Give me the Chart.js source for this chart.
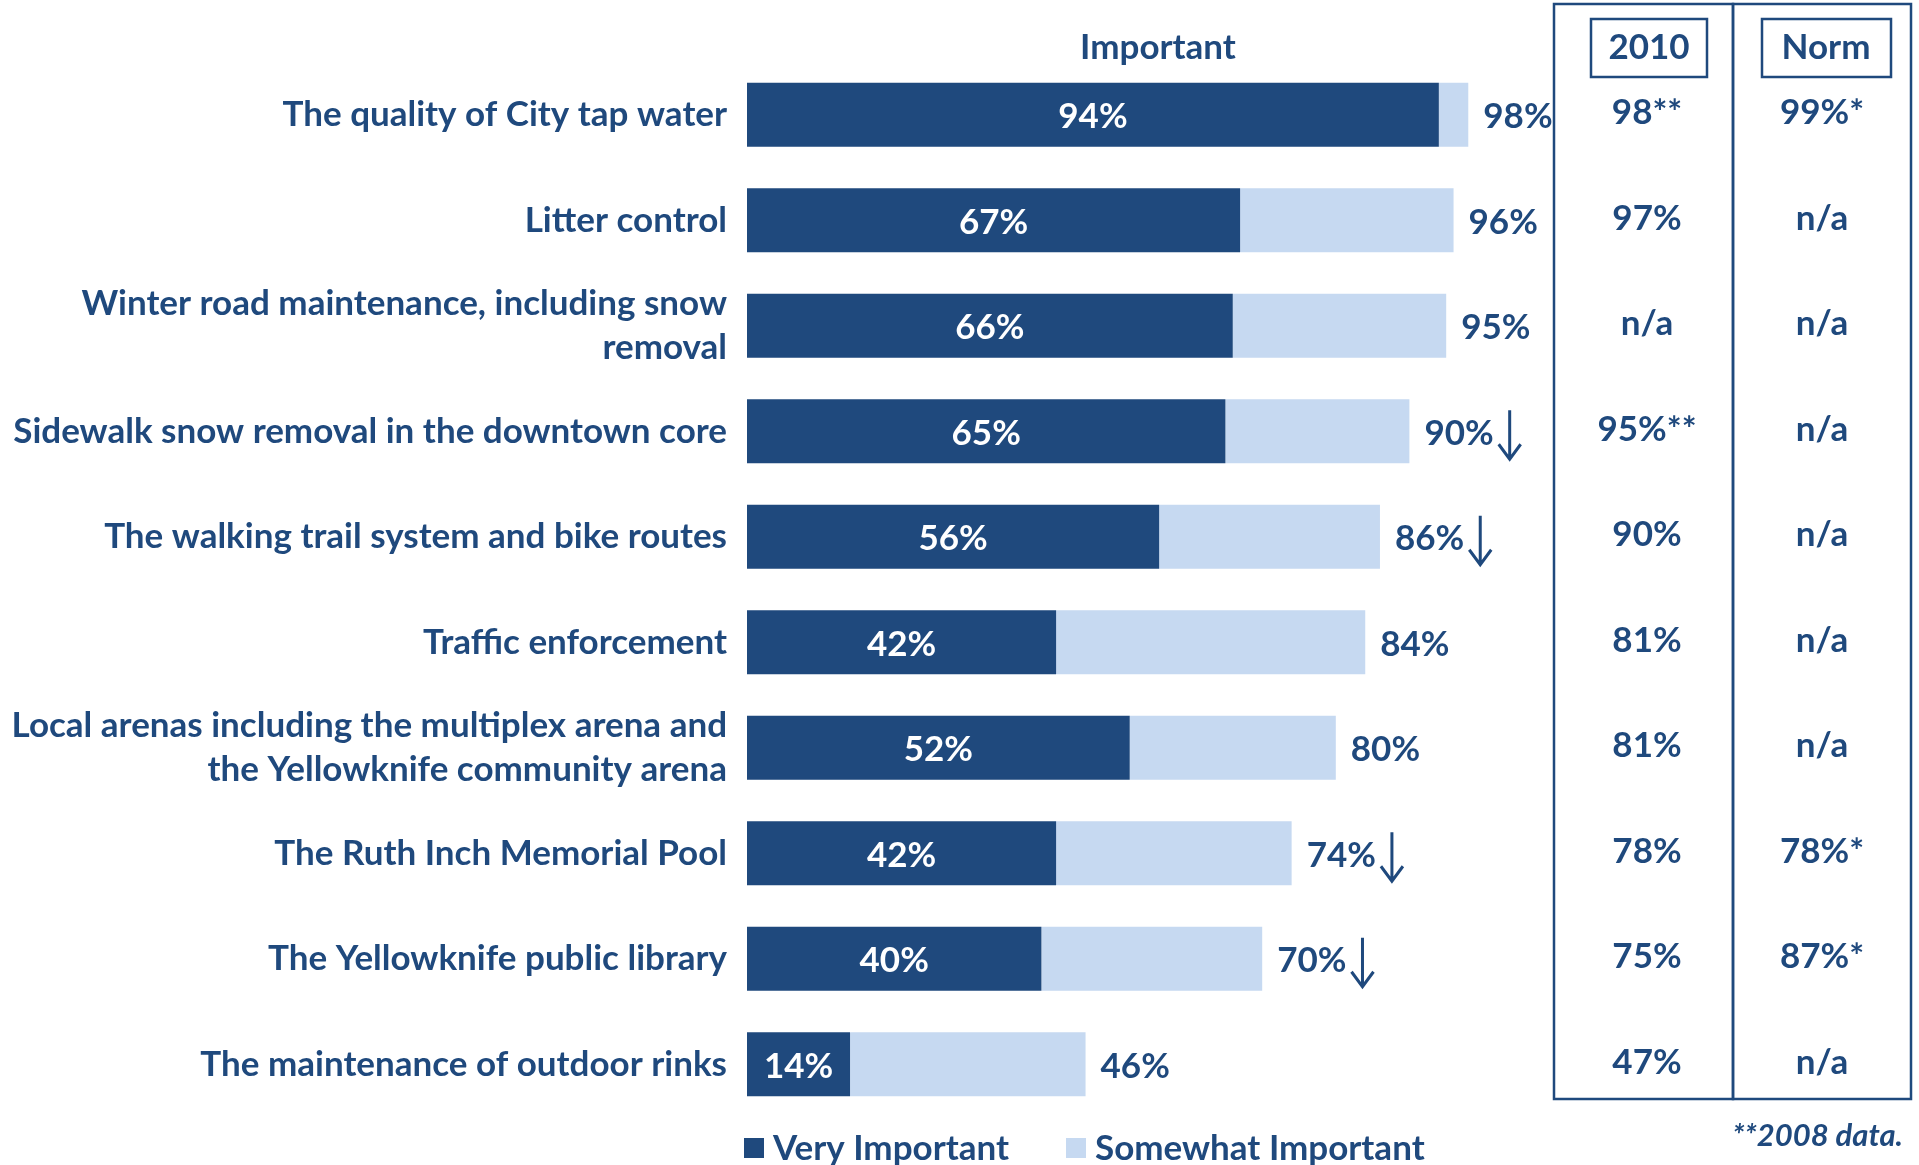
<!DOCTYPE html>
<html>
<head>
<meta charset="utf-8">
<title>Importance of City services</title>
<script src="https://cdn.jsdelivr.net/npm/chart.js@4/dist/chart.umd.min.js"></script>
<style>
    html, body { margin: 0; padding: 0; background: #fff; }
    #wrap { width: 1919px; height: 1165px; }
</style>
</head>
<body>
<div id="wrap"><canvas id="chart" width="1919" height="1165"></canvas></div>
<script>
'use strict'

var services = [
    'The quality of City tap water',
    'Litter control',
    ['Winter road maintenance, including snow', 'removal'],
    'Sidewalk snow removal in the downtown core',
    'The walking trail system and bike routes',
    'Traffic enforcement',
    ['Local arenas including the multiplex arena and', 'the Yellowknife community arena'],
    'The Ruth Inch Memorial Pool',
    'The Yellowknife public library',
    'The maintenance of outdoor rinks'
];
var veryImportant = [94, 67, 66, 65, 56, 42, 52, 42, 40, 14];
var totalImportant = [98, 96, 95, 90, 86, 84, 80, 74, 70, 46];
var droppedSince2010 = [false, false, false, true, true, false, false, true, true, false];
var results2010 = ['98**', '97%', 'n/a', '95%**', '90%', '81%', '81%', '78%', '75%', '47%'];
var resultsNorm = ['99%*', 'n/a', 'n/a', 'n/a', 'n/a', 'n/a', 'n/a', '78%*', '87%*', 'n/a'];

// somewhat = total minus very, so the stacked end lands on the total label
var somewhatImportant = totalImportant.map(function (t, i) { return t - veryImportant[i]; });

var DARK = '#1F497D';
var LIGHT = '#C6D9F1';
var FONT = 'Lato, "Open Sans", sans-serif';
var SIZE = 35;

(function () {

    // labels, arrows, the 2010 / Norm table and the legend
    var extras = {
        id: 'extras',
        afterDatasetsDraw: function (chart) {
            var ctx = chart.ctx;
            var yScale = chart.scales.y;
            var veryMeta = chart.getDatasetMeta(0);
            var someMeta = chart.getDatasetMeta(1);

            ctx.save();
            ctx.textBaseline = 'middle';
            ctx.font = 'bold ' + SIZE + 'px ' + FONT;

            // value inside the dark segment
            ctx.fillStyle = '#fff';
            ctx.textAlign = 'center';
            veryMeta.data.forEach(function (bar, i) {
                ctx.fillText(veryImportant[i] + '%', (bar.base + bar.x) / 2, bar.y + 2);
            });

            // total at the end of the stack, plus arrow where it fell
            ctx.fillStyle = DARK;
            ctx.strokeStyle = DARK;
            ctx.textAlign = 'left';
            someMeta.data.forEach(function (bar, i) {
                var label = totalImportant[i] + '%';
                var tx = bar.x + 15;
                ctx.fillText(label, tx, bar.y + 2);
                if (droppedSince2010[i]) {
                    var sx = tx + ctx.measureText(label).width + 16;
                    ctx.lineWidth = 3;
                    ctx.beginPath();
                    ctx.moveTo(sx, bar.y - 21);
                    ctx.lineTo(sx, bar.y + 27);
                    ctx.moveTo(sx - 11, bar.y + 13);
                    ctx.lineTo(sx, bar.y + 28);
                    ctx.lineTo(sx + 11, bar.y + 13);
                    ctx.stroke();
                }
            });

            // header above the bars
            ctx.textAlign = 'center';
            ctx.fillText('Important', 1158, 48);

            // comparison table
            ctx.lineWidth = 2.5;
            ctx.strokeRect(1554, 4, 179, 1095);
            ctx.strokeRect(1733, 4, 178, 1095);
            ctx.strokeRect(1591, 19, 116, 58);
            ctx.strokeRect(1762, 19, 129, 58);
            ctx.fillText('2010', 1649, 48);
            ctx.fillText('Norm', 1826, 48);
            for (var i = 0; i < services.length; i++) {
                var y = yScale.getPixelForValue(i) - 2;
                ctx.fillText(results2010[i], 1647, y);
                ctx.fillText(resultsNorm[i], 1822, y);
            }

            // legend
            ctx.textAlign = 'left';
            ctx.fillStyle = DARK;
            ctx.fillRect(744, 1138, 20, 20);
            ctx.fillText('Very Important', 773, 1149);
            ctx.fillStyle = LIGHT;
            ctx.fillRect(1066, 1138, 20, 20);
            ctx.fillStyle = DARK;
            ctx.fillText('Somewhat Important', 1095, 1149);

            // footnote
            ctx.textAlign = 'right';
            ctx.font = 'italic bold 31px ' + FONT;
            ctx.fillText('**2008 data.', 1903, 1136);

            ctx.restore();
        }
    };

    var ctx = document.getElementById('chart').getContext('2d');
    var chart = new Chart(ctx, {
        type: 'bar',
        data: {
            labels: services,
            datasets: [{
                label: 'Very Important',
                data: veryImportant,
                backgroundColor: DARK
            }, {
                label: 'Somewhat Important',
                data: somewhatImportant,
                backgroundColor: LIGHT
            }]
        },
        options: {
            indexAxis: 'y',
            responsive: false,
            animation: false,
            datasets: {
                bar: { categoryPercentage: 1, barPercentage: 0.607 }
            },
            layout: {
                padding: { top: 62, bottom: 48, left: 0, right: 436 }
            },
            scales: {
                x: {
                    stacked: true,
                    min: 0,
                    max: 100,
                    display: false
                },
                y: {
                    stacked: true,
                    border: { display: false },
                    grid: { display: false, drawTicks: false },
                    ticks: {
                        padding: 20,
                        color: DARK,
                        font: { family: FONT, weight: 'bold', size: SIZE, lineHeight: 1.27 }
                    },
                    afterFit: function (scale) {
                        scale.width = 747;
                    }
                }
            },
            plugins: {
                legend: { display: false },
                tooltip: { enabled: false }
            }
        },
        plugins: [extras]
    });

})();
</script>
</body>
</html>
